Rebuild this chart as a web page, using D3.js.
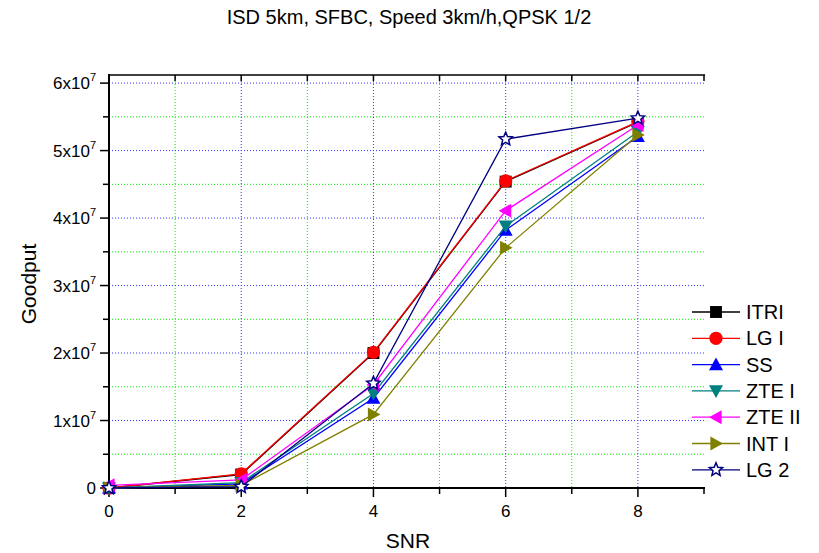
<!DOCTYPE html>
<html><head><meta charset="utf-8">
<script src="https://cdn.jsdelivr.net/npm/d3@7/dist/d3.min.js"></script>
<style>body{margin:0;background:#fff}svg{display:block;font-family:"Liberation Sans",Arial,sans-serif}</style>
</head><body>
<svg id="c" width="819" height="553"></svg>
<script>
const snr = [0, 2, 4, 6, 8];
const itri  = [0.00, 0.20, 2.00, 4.54, 5.42];
const lg1   = [0.00, 0.21, 2.01, 4.55, 5.43];
const ss    = [0.00, 0.06, 1.33, 3.82, 5.21];
const zte1  = [0.00, 0.08, 1.40, 3.88, 5.28];
const zte2  = [0.04, 0.12, 1.53, 4.11, 5.38];
const int1  = [0.00, 0.04, 1.09, 3.56, 5.23];
const lg2   = [0.00, 0.02, 1.55, 5.17, 5.48];
const seriesNames = ["ITRI", "LG I", "SS", "ZTE I", "ZTE II", "INT I", "LG 2"];
const seriesVals = [itri, lg1, ss, zte1, zte2, int1, lg2];
const colors = ["#000000", "#ff0000", "#0000ff", "#008080", "#ff00ff", "#808000", "#000080"];
const shapes = ["square", "circle", "up", "down", "left", "right", "star"];
const yTicks = [0, 1, 2, 3, 4, 5, 6];
const xTicks = [0, 2, 4, 6, 8];
const title = "ISD 5km, SFBC, Speed 3km/h,QPSK 1/2";

const svg = d3.select("#c");
const L = 109, R = 704, T = 75, B = 488;
const x = d3.scaleLinear().domain([0, 9]).range([L, R]);
const y = d3.scaleLinear().domain([0, 6.12]).range([B, T]);

// grid
const g = svg.append("g");
const xMinor = d3.range(1, 9, 2);
const yMinor = d3.range(0.5, 6, 1);
xMinor.forEach(v => g.append("line").attr("x1", x(v)).attr("x2", x(v)).attr("y1", T).attr("y2", B)
  .attr("stroke", "#00ee00").attr("stroke-dasharray", "1,2"));
yMinor.forEach(v => g.append("line").attr("x1", L).attr("x2", R).attr("y1", y(v)).attr("y2", y(v))
  .attr("stroke", "#00ee00").attr("stroke-dasharray", "1,2"));
xTicks.filter(v => v > 0).forEach(v => g.append("line").attr("x1", x(v)).attr("x2", x(v)).attr("y1", T).attr("y2", B)
  .attr("stroke", "#3333ff").attr("stroke-dasharray", "1,2"));
yTicks.filter(v => v > 0).forEach(v => g.append("line").attr("x1", L).attr("x2", R).attr("y1", y(v)).attr("y2", y(v))
  .attr("stroke", "#3333ff").attr("stroke-dasharray", "1,2"));

// axes
const ax = svg.append("g");
ax.append("line").attr("x1", L).attr("x2", R + 1).attr("y1", B).attr("y2", B).attr("stroke", "#000").attr("stroke-width", 2);
ax.append("line").attr("x1", L).attr("x2", L).attr("y1", T - 1).attr("y2", B + 1).attr("stroke", "#000").attr("stroke-width", 2);
ax.append("line").attr("x1", L).attr("x2", R + 1).attr("y1", T).attr("y2", T).attr("stroke", "#000").attr("stroke-width", 1.5);
d3.range(0, 10).forEach(v => {
  const maj = v % 2 === 0;
  ax.append("line").attr("x1", x(v)).attr("x2", x(v)).attr("y1", B).attr("y2", B + (maj ? 9 : 6)).attr("stroke", "#000").attr("stroke-width", 1.5);
  ax.append("line").attr("x1", x(v)).attr("x2", x(v)).attr("y1", T).attr("y2", T + 6).attr("stroke", "#000").attr("stroke-width", 1.5);
});
d3.range(0, 6.01, 0.5).forEach(v => {
  const maj = Math.abs(v - Math.round(v)) < 1e-9;
  ax.append("line").attr("x1", L).attr("x2", L - (maj ? 9 : 6)).attr("y1", y(v)).attr("y2", y(v)).attr("stroke", "#000").attr("stroke-width", 1.5);
});
xTicks.forEach(v => ax.append("text").attr("x", x(v)).attr("y", B + 29).attr("text-anchor", "middle")
  .attr("font-size", 17).text(v));
yTicks.forEach(v => {
  const t = ax.append("text").attr("x", 96).attr("y", y(v) + 6).attr("text-anchor", "end").attr("font-size", 17);
  if (v === 0) { t.text("0"); }
  else {
    t.append("tspan").text(v + "x10");
    t.append("tspan").attr("dy", -8).attr("font-size", 11).text("7");
  }
});
svg.append("text").attr("x", 408).attr("y", 548).attr("text-anchor", "middle").attr("font-size", 21).text("SNR");
svg.append("text").attr("transform", "translate(36,284) rotate(-90)").attr("text-anchor", "middle").attr("font-size", 21).text("Goodput");
svg.append("text").attr("x", 409).attr("y", 24).attr("text-anchor", "middle").attr("font-size", 20).text(title);

// markers
function marker(sel, shape, cx, cy, color, s) {
  const r = s / 2;
  if (shape === "square") sel.append("rect").attr("x", cx - r * 0.85).attr("y", cy - r * 0.85).attr("width", s * 0.85).attr("height", s * 0.85).attr("fill", color);
  else if (shape === "circle") sel.append("circle").attr("cx", cx).attr("cy", cy).attr("r", r * 0.95).attr("fill", color);
  else if (shape === "star") {
    const pts = d3.range(10).map(i => {
      const a = -Math.PI / 2 + i * Math.PI / 5, rr = i % 2 ? r * 0.45 : r;
      return [cx + rr * Math.cos(a), cy + rr * Math.sin(a)];
    });
    sel.append("polygon").attr("points", pts.map(p => p.join(",")).join(" ")).attr("fill", "#fff").attr("stroke", color).attr("stroke-width", 1.5);
  } else {
    let p;
    if (shape === "up") p = [[cx, cy - r], [cx - r, cy + r * 0.8], [cx + r, cy + r * 0.8]];
    if (shape === "down") p = [[cx, cy + r], [cx - r, cy - r * 0.8], [cx + r, cy - r * 0.8]];
    if (shape === "left") p = [[cx - r, cy], [cx + r * 0.8, cy - r], [cx + r * 0.8, cy + r]];
    if (shape === "right") p = [[cx + r, cy], [cx - r * 0.8, cy - r], [cx - r * 0.8, cy + r]];
    sel.append("polygon").attr("points", p.map(q => q.join(",")).join(" ")).attr("fill", color);
  }
}

const line = d3.line().x(d => x(d[0])).y(d => y(d[1]));
seriesVals.forEach((vals, i) => {
  const gs = svg.append("g");
  const pts = snr.map((s, j) => [s, vals[j]]);
  gs.append("path").attr("d", line(pts)).attr("fill", "none").attr("stroke", colors[i]).attr("stroke-width", 1.3);
  pts.forEach(p => marker(gs, shapes[i], x(p[0]), y(p[1]), colors[i], 14));
});

// legend
const lg = svg.append("g");
seriesNames.forEach((n, i) => {
  const yy = 312 + i * 26.3;
  lg.append("line").attr("x1", 692).attr("x2", 740).attr("y1", yy).attr("y2", yy).attr("stroke", colors[i]).attr("stroke-width", 1.3);
  marker(lg, shapes[i], 716, yy, colors[i], 14);
  lg.append("text").attr("x", 746).attr("y", yy + 7).attr("font-size", 20).text(n);
});
</script>
</body></html>
